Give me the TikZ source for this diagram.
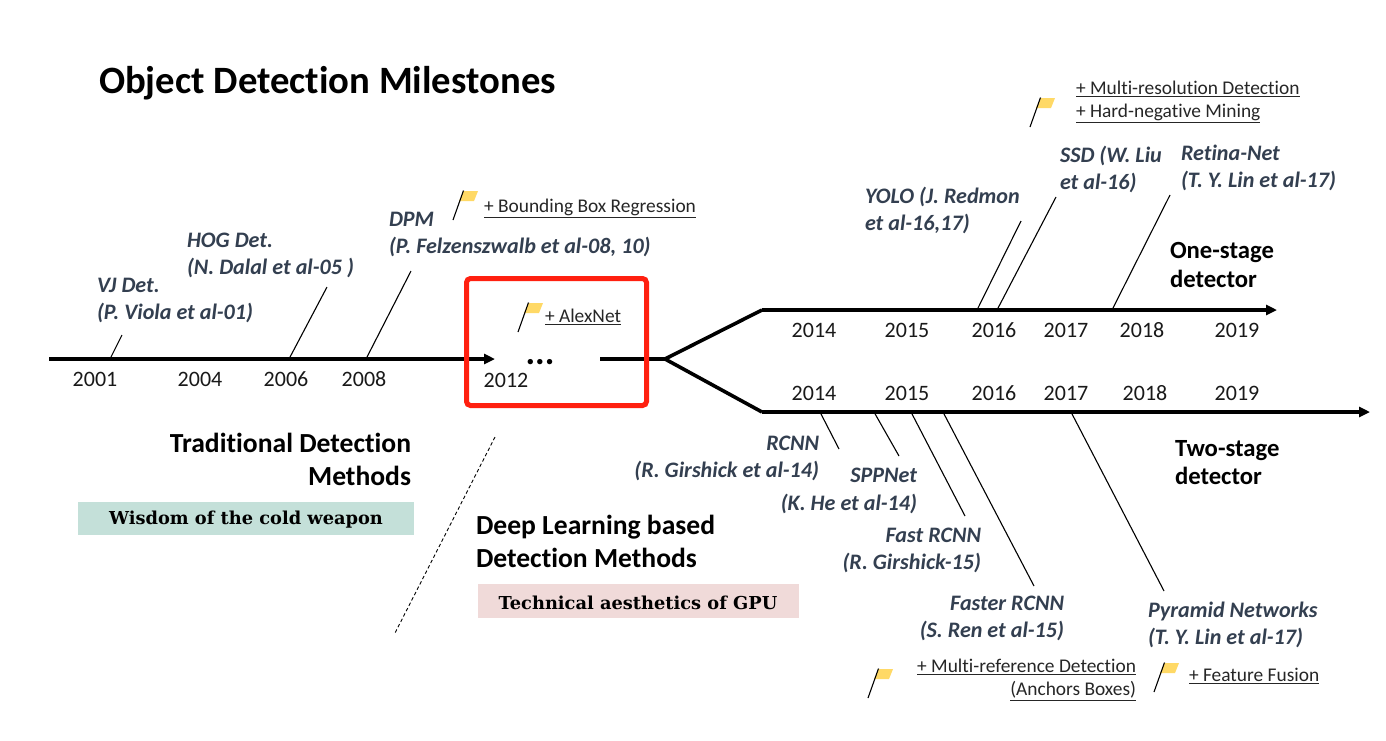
\documentclass[tikz,border=0pt]{standalone}
\usepackage{fontspec}
\setmainfont{Carlito}[Ligatures=NoCommon]
\newfontfamily\serifbf{DejaVu Serif}
\usetikzlibrary{arrows.meta}
\definecolor{slatetxt}{HTML}{333F50}
\definecolor{flagy}{HTML}{FFD966}
\definecolor{tealbg}{HTML}{C4E0D9}
\definecolor{pinkbg}{HTML}{F0DAD9}
\definecolor{redbox}{HTML}{FF2010}
\newcommand{\fs}[1]{\fontsize{#1}{#1}\selectfont}
\tikzset{
 x=1pt,y=-1pt,
 every node/.style={inner sep=0pt,outer sep=0pt},
 axis/.style={line width=3.6pt,black},
 lead/.style={line width=1.1pt,black},
 year/.style={font=\fs{22}, text=black!90},
 method/.style={font=\fs{22.1}\bfseries\itshape,text=slatetxt,align=left,anchor=north west},
 methodr/.style={method,align=right,anchor=north east},
 trick/.style={font=\fs{19.4},text=black!85,align=left},
 heading/.style={font=\fs{27.6}\bfseries,text=black,align=left,anchor=north west},
 subheading/.style={heading,font=\fs{24.7}\bfseries},
 slogan/.style={font=\serifbf\fs{17.8}\bfseries,text=black},
 flag/.pic={
   \fill[flagy] (10.5,-29) -- (25,-29) -- (21,-19) -- (6,-19) -- cycle;
   \draw[line width=1.1pt,black] (0,0) -- (10.5,-29.5);
 }
}
\newcommand{\ul}[1]{\underline{#1}}
\begin{document}
\begin{tikzpicture}
\useasboundingbox (0,0) rectangle (1386,740);
\fill[white] (0,0) rectangle (1386,740);

% background bars with slogans
\node[fill=tealbg,minimum width=336,minimum height=33] (b1) at (246,518) {};
\node[fill=pinkbg,minimum width=321,minimum height=34] (b2) at (638,601) {};
\node[slogan] (s1) at (246,519.5) {Wisdom of the cold weapon};
\node[slogan] (s2) at (638,602.5) {Technical aesthetics of GPU};

% axis coordinates
\coordinate (a0) at (49,359);
\coordinate (a1) at (495,359);
\coordinate (b0) at (600,359);
\coordinate (fork) at (665,359);
\coordinate (up) at (762,310);
\coordinate (upend) at (1277,310);
\coordinate (dn) at (762,412);
\coordinate (dnend) at (1370,412);

\draw[axis,-{Triangle[length=11pt,width=10pt]}] (a0) -- (a1);
\draw[axis] (b0) -- (fork);
\draw[axis,line join=round] (fork) -- (up);
\draw[axis,line join=round] (fork) -- (dn);
\draw[axis,-{Triangle[length=11pt,width=10pt]}] (up) -- (upend);
\draw[axis,-{Triangle[length=11pt,width=10pt]}] (dn) -- (dnend);

% red box
\node[draw=redbox,line width=5pt,rounded corners=4pt,minimum width=180,minimum height=127] (rb) at (556.5,342) {};
\node[font=\fs{36}\bfseries] (dots) at (540,362) {...};

% title and headings
\node[font=\fs{38.7}\bfseries,anchor=west] (title) at (99,83) {Object Detection Milestones};
\node[heading,align=right,anchor=north east] (h1) at (411,433) {Traditional Detection\\[5.4pt]Methods};
\node[heading] (h2) at (476,515) {Deep Learning based\\[5.4pt]Detection Methods};
\node[subheading] (h3) at (1170,242) {One-stage\\[4.3pt]detector};
\node[subheading] (h4) at (1175,440) {Two-stage\\[3.3pt]detector};

% years
\node[year] (y01) at (95,379) {2001};
\node[year] (y04) at (200,379) {2004};
\node[year] (y06) at (286,379) {2006};
\node[year] (y08) at (364,379) {2008};
\node[year] (y12) at (506,380) {2012};
\node[year] (u14) at (814,330) {2014};
\node[year] (u15) at (907,330) {2015};
\node[year] (u16) at (994,330) {2016};
\node[year] (u17) at (1066,330) {2017};
\node[year] (u18) at (1142,330) {2018};
\node[year] (u19) at (1237,330) {2019};
\node[year] (d14) at (814,393) {2014};
\node[year] (d15) at (907,393) {2015};
\node[year] (d16) at (994,393) {2016};
\node[year] (d17) at (1066,393) {2017};
\node[year] (d18) at (1145,393) {2018};
\node[year] (d19) at (1237,393) {2019};

% method labels
\node[method] (vj) at (97,278) {VJ Det.\\[4.9pt](P. Viola et al-01)};
\node[method] (hog) at (187,233) {HOG Det.\\[4.9pt](N. Dalal et al-05 )};
\node[method] (dpm) at (389,212) {DPM\\[4.9pt](P. Felzenszwalb et al-08, 10)};
\node[method] (yolo) at (865,187) {YOLO (J. Redmon\\[4.9pt]et al-16,17)};
\node[method] (ssd) at (1060,146) {SSD (W. Liu\\[4.9pt]et al-16)};
\node[method] (retina) at (1181,145) {Retina-Net\\[4.9pt](T. Y. Lin et al-17)};
\node[methodr] (rcnn) at (819,436) {RCNN\\[4.9pt](R. Girshick et al-14)};
\node[methodr] (spp) at (917,468) {SPPNet\\[5.5pt](K. He et al-14)};
\node[methodr] (fast) at (981,528) {Fast RCNN\\[4.4pt](R. Girshick-15)};
\node[methodr] (faster) at (1064,596) {Faster RCNN\\[4.4pt](S. Ren et al-15)};
\node[method] (fpn) at (1148,602) {Pyramid Networks\\[4.4pt](T. Y. Lin et al-17)};

% leader lines
\coordinate (lv0) at (110,359); \coordinate (lv1) at (122,335);
\coordinate (lh0) at (289,359); \coordinate (lh1) at (327,287);
\coordinate (ld0) at (366,359); \coordinate (ld1) at (411,271);
\coordinate (ly0) at (977,310); \coordinate (ly1) at (1021,221);
\coordinate (ls0) at (997,310); \coordinate (ls1) at (1056,197);
\coordinate (lr0) at (1112,310); \coordinate (lr1) at (1170,195);
\coordinate (lc0) at (820,412); \coordinate (lc1) at (839,449);
\coordinate (lp0) at (874,412); \coordinate (lp1) at (899,456);
\coordinate (lf0) at (911,412); \coordinate (lf1) at (965,516);
\coordinate (lq0) at (943,412); \coordinate (lq1) at (1034,586);
\coordinate (lt0) at (1071,412); \coordinate (lt1) at (1164,591);
\foreach \n in {v,h,d,y,s,r,c,p,f,q,t} \draw[lead] (l\n0) -- (l\n1);

% dashed divider
\coordinate (dv0) at (495,437);
\coordinate (dv1) at (395,633);
\draw[line width=0.9pt,dash pattern=on 3.5pt off 2.5pt] (dv0) -- (dv1);

% flags
\pic at (453,220) {flag};
\pic at (518,332) {flag};
\pic at (1030,127) {flag};
\pic at (868,698) {flag};
\pic at (1154,692) {flag};

% tricks
\node[trick,anchor=west] (t1) at (484,208) {\ul{+ Bounding Box Regression}};
\node[trick,anchor=west] (t2) at (545,317) {\ul{+ AlexNet}};
\node[trick,anchor=west] (t3) at (1076,89) {\ul{+ Multi-resolution Detection}};
\node[trick,anchor=west] (t4) at (1076,113) {\ul{+ Hard-negative Mining}};
\node[trick,anchor=east] (t5) at (1136,667) {\ul{+ Multi-reference Detection}};
\node[trick,anchor=east] (t6) at (1136,691) {\ul{(Anchors Boxes)}};
\node[trick,anchor=west] (t7) at (1189,676) {\ul{+ Feature Fusion}};
\end{tikzpicture}
\end{document}
